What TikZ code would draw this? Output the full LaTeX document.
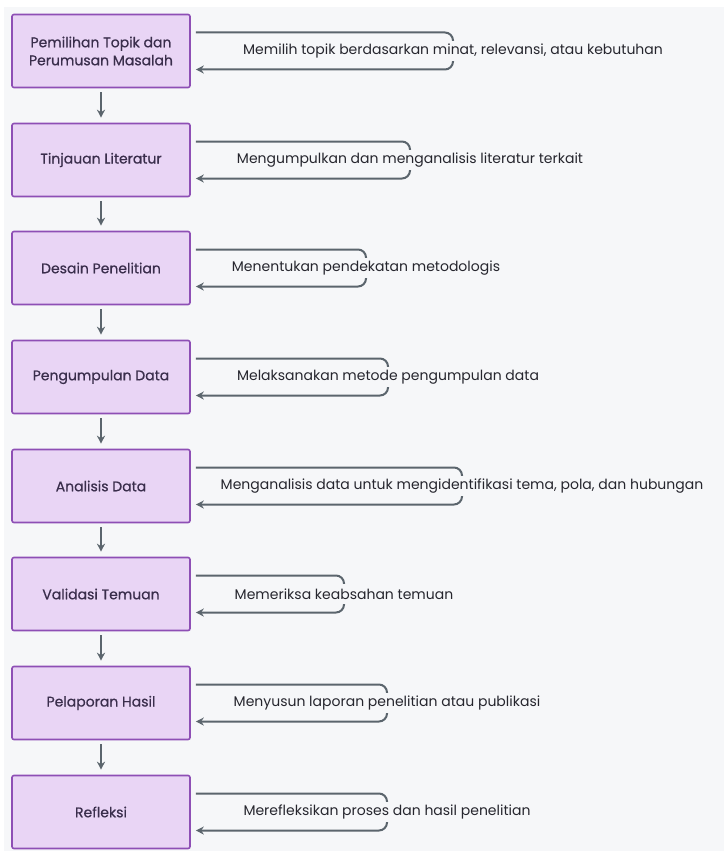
\documentclass[tikz,border=0pt]{standalone}
\usepackage{fontspec}
\setmainfont{Poppins}
\newfontfamily\stagefont[FakeBold=0.6]{Poppins}
\usetikzlibrary{positioning,arrows.meta}

\definecolor{bgc}{HTML}{F6F7F9}
\definecolor{boxfill}{HTML}{E9D5F5}
\definecolor{boxline}{HTML}{8E4FB5}
\definecolor{lineg}{HTML}{5B656D}
\definecolor{txt}{HTML}{26262E}
\definecolor{stagetxt}{HTML}{3A2E4C}

\begin{document}
\begin{tikzpicture}[x=1pt, y=-1pt,
  stage/.style={draw=boxline, line width=1.6pt, fill=boxfill, rounded corners=2pt,
    minimum width=178pt, minimum height=73pt, align=center, text=stagetxt,
    font=\stagefont\fontsize{14}{18}\selectfont},
  note/.style={text=txt, inner sep=0pt, minimum height=20pt, font=\fontsize{14}{16}\selectfont},
  flow/.style={lineg, line width=2pt, -{Stealth[length=8pt, width=8pt]}},
  back/.style={flow, rounded corners=8pt}]

% canvas
\fill[white] (0,0) rectangle (726,851);
\fill[bgc] (4,7) rectangle (724,851);

\node[stage] (topik) at (101, 51) {Pemilihan Topik dan\\Perumusan Masalah};
\node[stage] (lit) at (101, 160) {Tinjauan Literatur};
\node[stage] (desain) at (101, 268) {Desain Penelitian};
\node[stage] (kumpul) at (101, 377) {Pengumpulan Data};
\node[stage] (analisis) at (101, 486) {Analisis Data};
\node[stage] (valid) at (101, 594) {Validasi Temuan};
\node[stage] (lapor) at (101, 703) {Pelaporan Hasil};
\node[stage] (refleksi) at (101, 812) {Refleksi};

\draw[flow, shorten <=4pt, shorten >=5pt] (topik) -- (lit);
\draw[flow, shorten <=4pt, shorten >=5pt] (lit) -- (desain);
\draw[flow, shorten <=4pt, shorten >=5pt] (desain) -- (kumpul);
\draw[flow, shorten <=4pt, shorten >=5pt] (kumpul) -- (analisis);
\draw[flow, shorten <=4pt, shorten >=5pt] (analisis) -- (valid);
\draw[flow, shorten <=4pt, shorten >=5pt] (valid) -- (lapor);
\draw[flow, shorten <=4pt, shorten >=5pt] (lapor) -- (refleksi);

% self loops with their labels
\node[note] (n1) at (453, 51) {Memilih topik berdasarkan minat, relevansi, atau kebutuhan};
\draw[back] ([xshift=5pt, yshift=18.5pt]topik.east) -| (n1.north) (n1.south) |- ([xshift=5pt, yshift=-18.5pt]topik.east);

\node[note] (n2) at (410, 160) {Mengumpulkan dan menganalisis literatur terkait};
\draw[back] ([xshift=5pt, yshift=18.5pt]lit.east) -| (n2.north) (n2.south) |- ([xshift=5pt, yshift=-18.5pt]lit.east);

\node[note] (n3) at (366, 268) {Menentukan pendekatan metodologis};
\draw[back] ([xshift=5pt, yshift=18.5pt]desain.east) -| (n3.north) (n3.south) |- ([xshift=5pt, yshift=-18.5pt]desain.east);

\node[note] (n4) at (388, 377) {Melaksanakan metode pengumpulan data};
\draw[back] ([xshift=5pt, yshift=18.5pt]kumpul.east) -| (n4.north) (n4.south) |- ([xshift=5pt, yshift=-18.5pt]kumpul.east);

\node[note] (n5) at (462, 486) {Menganalisis data untuk mengidentifikasi tema, pola, dan hubungan};
\draw[back] ([xshift=5pt, yshift=18.5pt]analisis.east) -| (n5.north) (n5.south) |- ([xshift=5pt, yshift=-18.5pt]analisis.east);

\node[note] (n6) at (344, 594) {Memeriksa keabsahan temuan};
\draw[back] ([xshift=5pt, yshift=18.5pt]valid.east) -| (n6.north) (n6.south) |- ([xshift=5pt, yshift=-18.5pt]valid.east);

\node[note] (n7) at (387, 703) {Menyusun laporan penelitian atau publikasi};
\draw[back] ([xshift=5pt, yshift=18.5pt]lapor.east) -| (n7.north) (n7.south) |- ([xshift=5pt, yshift=-18.5pt]lapor.east);

\node[note] (n8) at (387, 812) {Merefleksikan proses dan hasil penelitian};
\draw[back] ([xshift=5pt, yshift=18.5pt]refleksi.east) -| (n8.north) (n8.south) |- ([xshift=5pt, yshift=-18.5pt]refleksi.east);

\end{tikzpicture}
\end{document}
